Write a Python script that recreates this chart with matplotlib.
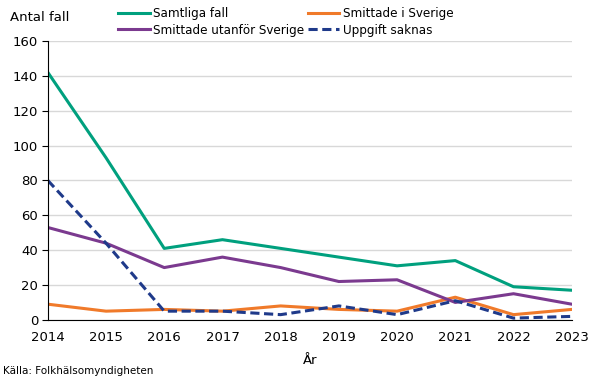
import matplotlib
matplotlib.use("Agg")
import matplotlib.pyplot as plt

years = [2014, 2015, 2016, 2017, 2018, 2019, 2020, 2021, 2022, 2023]
samtliga = [142, 93, 41, 46, 41, 36, 31, 34, 19, 17]
sverige = [9, 5, 6, 5, 8, 6, 5, 13, 3, 6]
utanfor = [53, 44, 30, 36, 30, 22, 23, 10, 15, 9]
saknas = [80, 44, 5, 5, 3, 8, 3, 11, 1, 2]
yticks = [0, 20, 40, 60, 80, 100, 120, 140, 160]

plt.rcParams["font.family"] = ["DejaVu Sans"]
fig = plt.figure(figsize=(6.05, 3.79), dpi=100)
ax = fig.add_axes([0.079, 0.156, 0.866, 0.736])

l1, = ax.plot(years, samtliga, color="#00a07e", lw=2.2, label="Samtliga fall")
l2, = ax.plot(years, sverige, color="#f07a2a", lw=2.2, label="Smittade i Sverige")
l3, = ax.plot(years, utanfor, color="#7b3a8f", lw=2.2, label="Smittade utanför Sverige")
l4, = ax.plot(years, saknas, color="#1f3a8a", lw=2.2, ls=(0, (3, 1.5)), label="Uppgift saknas")

ax.set_xlim(2014, 2023)
ax.set_ylim(0, 160)
ax.set_yticks(yticks)
ax.set_xticks(years)
ax.grid(axis="y", color="#d8d8d8", lw=1)
ax.set_axisbelow(True)
for s in ["top", "right"]:
    ax.spines[s].set_visible(False)
ax.spines["left"].set_color("black")
ax.spines["bottom"].set_color("black")
ax.tick_params(axis="y", length=4, labelsize=9.5, pad=3)
ax.tick_params(axis="x", length=0, labelsize=9.5, pad=8)

fig.text(0.016, 0.955, "Antal fall", fontsize=9.5, va="center")
fig.text(0.512, 0.05, "År", fontsize=9.5, ha="center", va="center")
fig.text(0.005, 0.022, "Källa: Folkhälsomyndigheten", fontsize=7.5, va="center")

fig.legend(handles=[l1, l3, l2, l4], ncol=2, loc="upper left",
           bbox_to_anchor=(0.176, 1.012), frameon=False,
           handlelength=2.4, handletextpad=0.25, columnspacing=0.25,
           labelspacing=0.25, prop={"stretch": "condensed", "size": 9.5})

fig.savefig("out.png", dpi=100)
